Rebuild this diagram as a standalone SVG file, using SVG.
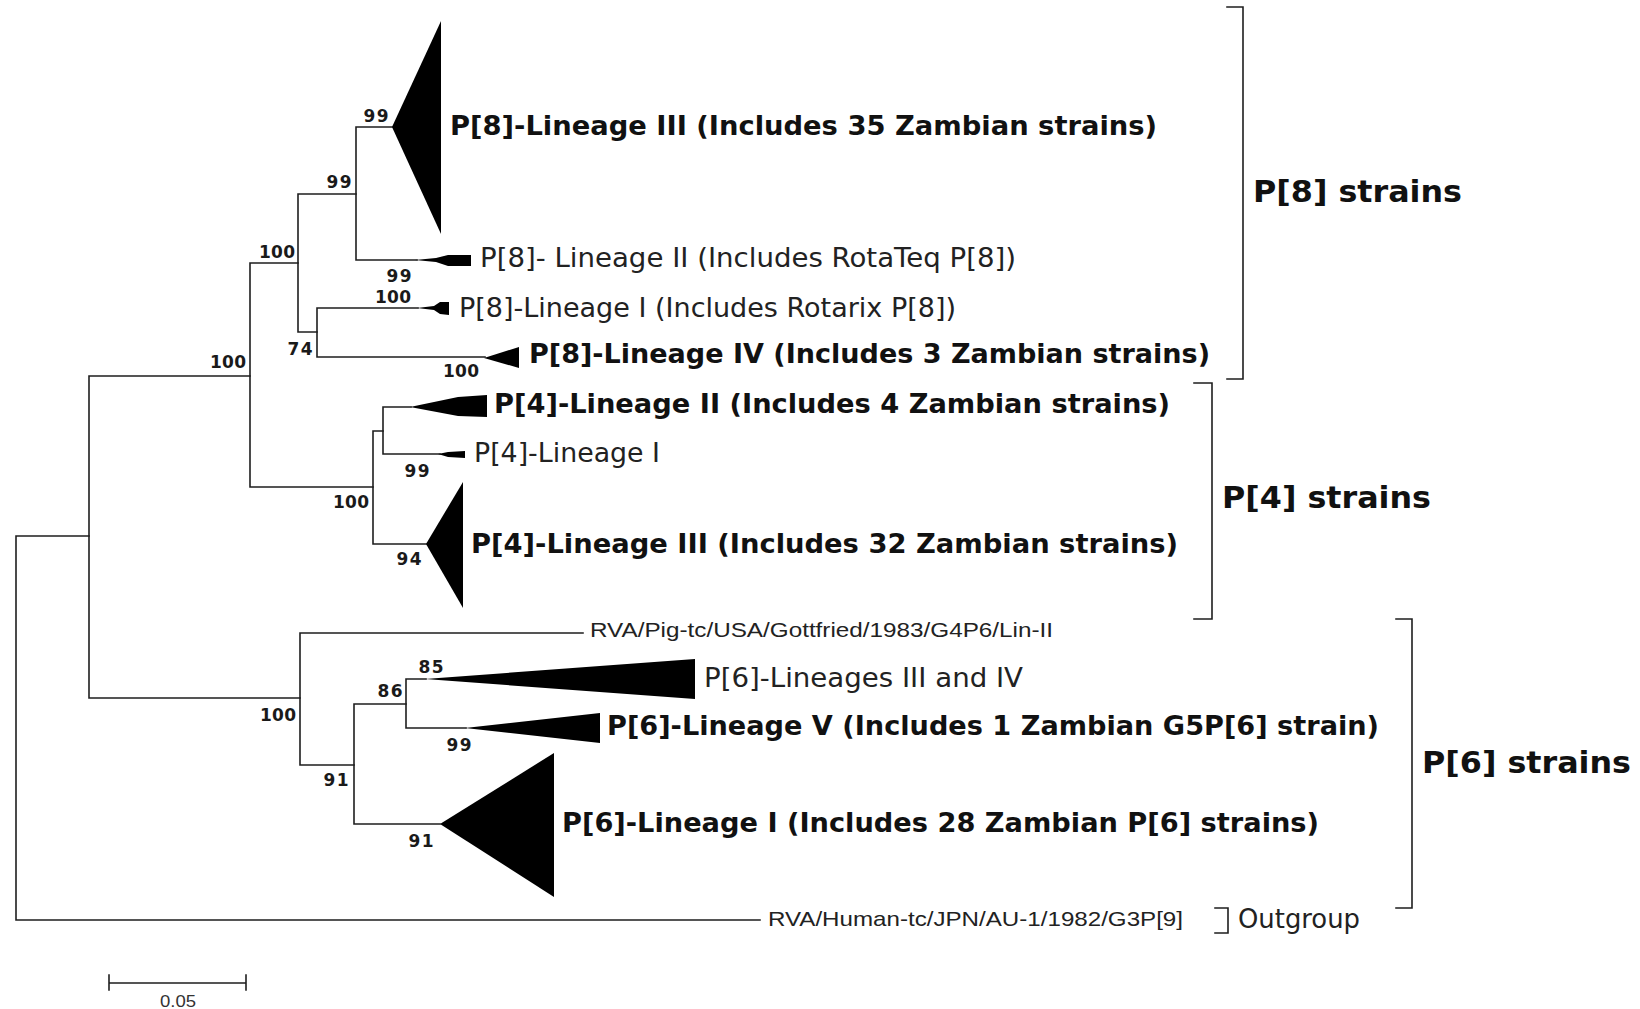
<svg xmlns="http://www.w3.org/2000/svg" width="1640" height="1009" viewBox="0 0 1640 1009">
<style>
.br{fill:none;stroke:#1e1e1e;stroke-width:1.6;stroke-linecap:square}
.tri{fill:#000;stroke:none}
.bs{font-family:"DejaVu Sans",Verdana,sans-serif;font-weight:bold;font-size:17px;fill:#1a1a1a;text-anchor:middle}
.lb{font-family:"DejaVu Sans",Verdana,sans-serif;font-weight:bold;font-size:26px;fill:#111}
.ln{font-family:"DejaVu Sans",Verdana,sans-serif;font-size:26px;fill:#222}
.st{font-family:"Liberation Sans",Arial,sans-serif;font-size:21px;fill:#222}
.grp{font-family:"DejaVu Sans",Verdana,sans-serif;font-weight:bold;font-size:30px;fill:#111}
.og{font-family:"DejaVu Sans",Verdana,sans-serif;font-size:26px;fill:#222}
.sc{font-family:"Liberation Sans",Arial,sans-serif;font-size:16px;fill:#333;text-anchor:middle}
</style>
<rect width="1640" height="1009" fill="#fff"/>
<g id="connectors">
<path class="br" d="M16,536 H89 M16,536 V920 H760"/>
<path class="br" d="M89,376 V698 M89,376 H250 M89,698 H300"/>
<path class="br" d="M250,263 V487 M250,263 H298 M250,487 H373"/>
<path class="br" d="M298,194 V332 M298,194 H356 M298,332 H317"/>
<path class="br" d="M356,127 V260 M356,127 H392 M356,260 H417"/>
<path class="br" d="M317,308 V357 M317,308 H418 M317,357 H485"/>
<path class="br" d="M373,431 V544 M373,431 H383 M373,544 H426"/>
<path class="br" d="M383,407 V454 M383,407 H411 M383,454 H440"/>
<path class="br" d="M300,633 V765 M300,633 H583 M300,765 H354"/>
<path class="br" d="M354,704 V824 M354,704 H406 M354,824 H440"/>
<path class="br" d="M406,679 V728 M406,679 H426 M406,728 H466"/>
</g>
<g id="clade-p8-l3"><polygon class="tri" points="392,127 441,21 441,234"/><text class="lb" x="450" y="135" textLength="707" lengthAdjust="spacingAndGlyphs">P[8]-Lineage III (Includes 35 Zambian strains)</text></g>
<g id="clade-p8-l2"><polygon class="tri" points="415,260 436,258 448,255 471,255 471,266 448,266 436,262"/><text class="ln" x="480" y="267" textLength="536" lengthAdjust="spacingAndGlyphs">P[8]- Lineage II (Includes RotaTeq P[8])</text></g>
<g id="clade-p8-l1"><polygon class="tri" points="417,308 434,306 440,302 449,302 449,315 440,314 434,310"/><text class="ln" x="459" y="317" textLength="497" lengthAdjust="spacingAndGlyphs">P[8]-Lineage I (Includes Rotarix P[8])</text></g>
<g id="clade-p8-l4"><polygon class="tri" points="484,358 519,347 519,368"/><text class="lb" x="529" y="363" textLength="681" lengthAdjust="spacingAndGlyphs">P[8]-Lineage IV (Includes 3 Zambian strains)</text></g>
<g id="clade-p4-l2"><polygon class="tri" points="410,407 458,397 487,395 487,417 458,416"/><text class="lb" x="494" y="413" textLength="676" lengthAdjust="spacingAndGlyphs">P[4]-Lineage II (Includes 4 Zambian strains)</text></g>
<g id="clade-p4-l1"><polygon class="tri" points="438,454 448,452 465,451 465,458 448,457"/><text class="ln" x="474" y="462" textLength="186" lengthAdjust="spacingAndGlyphs">P[4]-Lineage I</text></g>
<g id="clade-p4-l3"><polygon class="tri" points="426,544 463,482 463,608"/><text class="lb" x="471" y="553" textLength="707" lengthAdjust="spacingAndGlyphs">P[4]-Lineage III (Includes 32 Zambian strains)</text></g>
<g id="strain-gottfried"><text class="st" x="590" y="637" textLength="463" lengthAdjust="spacingAndGlyphs">RVA/Pig-tc/USA/Gottfried/1983/G4P6/Lin-II</text></g>
<g id="clade-p6-l34"><polygon class="tri" points="425,679 695,659 695,699"/><text class="ln" x="704" y="687" textLength="319" lengthAdjust="spacingAndGlyphs">P[6]-Lineages III and IV</text></g>
<g id="clade-p6-l5"><polygon class="tri" points="465,728 600,713 600,743"/><text class="lb" x="607" y="735" textLength="772" lengthAdjust="spacingAndGlyphs">P[6]-Lineage V (Includes 1 Zambian G5P[6] strain)</text></g>
<g id="clade-p6-l1"><polygon class="tri" points="440,824 554,753 554,897"/><text class="lb" x="562" y="832" textLength="757" lengthAdjust="spacingAndGlyphs">P[6]-Lineage I (Includes 28 Zambian P[6] strains)</text></g>
<g id="strain-au1"><text class="st" x="768" y="926" textLength="415" lengthAdjust="spacingAndGlyphs">RVA/Human-tc/JPN/AU-1/1982/G3P[9]</text></g>
<g id="bootstrap">
<text class="bs" x="376" y="122" textLength="25">99</text>
<text class="bs" x="339" y="188" textLength="25">99</text>
<text class="bs" x="399" y="282" textLength="25">99</text>
<text class="bs" x="277" y="258" textLength="36">100</text>
<text class="bs" x="393" y="303" textLength="36">100</text>
<text class="bs" x="300" y="355" textLength="25">74</text>
<text class="bs" x="461" y="377" textLength="36">100</text>
<text class="bs" x="228" y="368" textLength="36">100</text>
<text class="bs" x="351" y="508" textLength="36">100</text>
<text class="bs" x="417" y="477" textLength="25">99</text>
<text class="bs" x="409" y="565" textLength="25">94</text>
<text class="bs" x="431" y="673" textLength="25">85</text>
<text class="bs" x="390" y="697" textLength="25">86</text>
<text class="bs" x="278" y="721" textLength="36">100</text>
<text class="bs" x="336" y="786" textLength="25">91</text>
<text class="bs" x="459" y="751" textLength="25">99</text>
<text class="bs" x="421" y="847" textLength="25">91</text>
</g>
<g id="group-p8"><path class="br" d="M1227,7 H1243 V379 H1227"/><text class="grp" x="1253" y="202" textLength="209" lengthAdjust="spacingAndGlyphs">P[8] strains</text></g>
<g id="group-p4"><path class="br" d="M1194,383 H1212 V619 H1194"/><text class="grp" x="1222" y="508" textLength="209" lengthAdjust="spacingAndGlyphs">P[4] strains</text></g>
<g id="group-p6"><path class="br" d="M1396,619 H1412 V908 H1396"/><text class="grp" x="1422" y="773" textLength="209" lengthAdjust="spacingAndGlyphs">P[6] strains</text></g>
<g id="group-outgroup"><path class="br" d="M1215,908 H1228 V933 H1215"/><text class="og" x="1238" y="928" textLength="122" lengthAdjust="spacingAndGlyphs">Outgroup</text></g>
<g id="scale-bar"><path class="br" d="M109,983 H246 M109,975 V990 M246,975 V990"/><text class="sc" x="178" y="1007" textLength="36" lengthAdjust="spacingAndGlyphs">0.05</text></g>
</svg>
